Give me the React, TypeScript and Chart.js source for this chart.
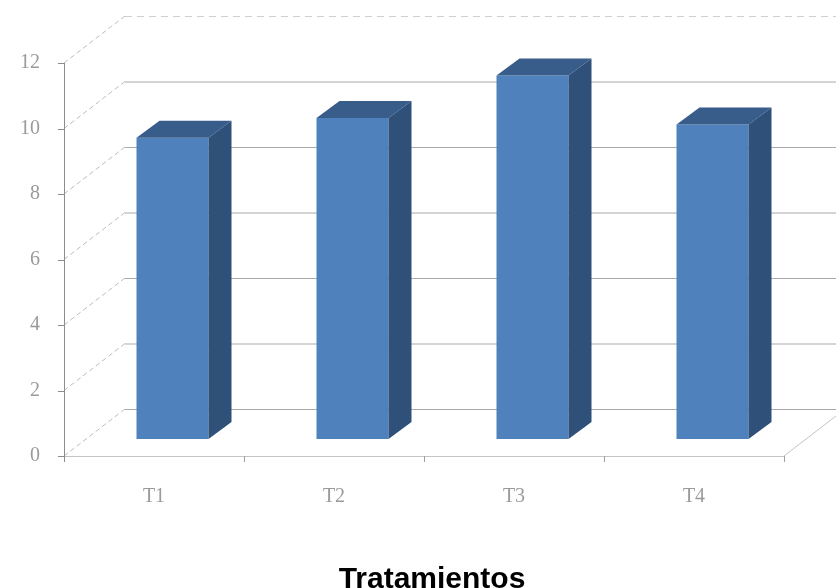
import React, { useEffect, useRef } from "react";
import { Chart, registerables } from "chart.js";

Chart.register(...registerables);

// Treatments and their mean values
const categories: string[] = ["T1", "T2", "T3", "T4"];
const values: number[] = [9.2, 9.8, 11.1, 9.6];
const yTicks = { min: 0, max: 12, step: 2 };
const axisTitle = "Tratamientos";

// Oblique projection offsets: wall depth and bar depth
const WALL_DX = 61;
const WALL_DY = -47;
const BAR_SHIFT_X = 18.5;
const BAR_SHIFT_Y = -17;
const BAR_DX = 23;
const BAR_DY = -17;

const FRONT = "#4F81BD";
const TOP = "#385D8A";
const SIDE = "#2E5079";

const box3d = {
  id: "box3d",
  beforeDatasetsDraw(chart: any) {
    const { ctx, chartArea, scales } = chart;
    const ys = scales.y;
    const xs = scales.x;
    const left = chartArea.left;
    const right = chartArea.right;
    const bottom = ys.getPixelForValue(0);
    const W = chart.width;
    ctx.save();

    // Back wall horizontals and left-wall diagonals
    ys.ticks.forEach((t: any, i: number) => {
      const py = ys.getPixelForValue(t.value);
      const isTop = i === ys.ticks.length - 1;
      ctx.lineWidth = 1;
      ctx.strokeStyle = isTop ? "#cfcfcf" : "#a9a9a9";
      ctx.setLineDash(isTop ? [7, 5] : []);
      ctx.beginPath();
      ctx.moveTo(left + WALL_DX, py + WALL_DY + 0.5);
      ctx.lineTo(W + 20, py + WALL_DY + 0.5);
      ctx.stroke();
      ctx.strokeStyle = "#bdbdbd";
      ctx.setLineDash([5, 3]);
      ctx.beginPath();
      ctx.moveTo(left, py);
      ctx.lineTo(left + WALL_DX, py + WALL_DY);
      ctx.stroke();
    });
    ctx.setLineDash([]);

    // Floor front edge and right edge
    ctx.strokeStyle = "#c4c4c4";
    ctx.beginPath();
    ctx.moveTo(left, bottom + 0.5);
    ctx.lineTo(right, bottom + 0.5);
    ctx.moveTo(right, bottom);
    ctx.lineTo(right + WALL_DX, bottom + WALL_DY);
    ctx.stroke();

    // Vertical axis with its ticks
    ctx.strokeStyle = "#8c8c8c";
    ctx.beginPath();
    ctx.moveTo(left + 0.5, ys.getPixelForValue(yTicks.max));
    ctx.lineTo(left + 0.5, bottom + 6);
    ys.ticks.forEach((t: any) => {
      const py = Math.round(ys.getPixelForValue(t.value)) + 0.5;
      ctx.moveTo(left - 6, py);
      ctx.lineTo(left, py);
    });
    ctx.stroke();

    // Category boundary ticks under the floor
    ctx.strokeStyle = "#a0a0a0";
    ctx.beginPath();
    const slot = (right - left) / categories.length;
    for (let i = 1; i <= categories.length; i++) {
      const px = Math.round(left + slot * i) + 0.5;
      ctx.moveTo(px, bottom);
      ctx.lineTo(px, bottom + 6);
    }
    ctx.stroke();

    // Tick labels
    ctx.fillStyle = "#9a9a9a";
    ctx.font = "20px 'Liberation Serif', serif";
    ctx.textAlign = "right";
    ctx.textBaseline = "middle";
    ys.ticks.forEach((t: any) => {
      ctx.fillText(String(t.value), left - 24, ys.getPixelForValue(t.value));
    });
    ctx.textAlign = "center";
    categories.forEach((c, i) => {
      ctx.fillText(c, xs.getPixelForValue(i), bottom + 41);
    });

    // Axis title
    ctx.fillStyle = "#000";
    ctx.font = "bold 30px 'Liberation Sans', Arial, sans-serif";
    ctx.textBaseline = "alphabetic";
    ctx.fillText(axisTitle, (left + right) / 2 + 8, 588);
    ctx.restore();
  },
  beforeDatasetDraw(chart: any) {
    chart.ctx.save();
    chart.ctx.translate(BAR_SHIFT_X, BAR_SHIFT_Y);
  },
  afterDatasetDraw(chart: any, args: any) {
    const { ctx } = chart;
    const meta = chart.getDatasetMeta(args.index);
    meta.data.forEach((el: any) => {
      const { x, y, base, width } = el.getProps(["x", "y", "base", "width"], true);
      const l = x - width / 2;
      const r = x + width / 2;
      ctx.fillStyle = TOP;
      ctx.beginPath();
      ctx.moveTo(l, y);
      ctx.lineTo(r, y);
      ctx.lineTo(r + BAR_DX, y + BAR_DY);
      ctx.lineTo(l + BAR_DX, y + BAR_DY);
      ctx.closePath();
      ctx.fill();
      ctx.fillStyle = SIDE;
      ctx.beginPath();
      ctx.moveTo(r, y);
      ctx.lineTo(r + BAR_DX, y + BAR_DY);
      ctx.lineTo(r + BAR_DX, base + BAR_DY);
      ctx.lineTo(r, base);
      ctx.closePath();
      ctx.fill();
    });
    ctx.restore();
  },
};

export default function App() {
  const ref = useRef<HTMLCanvasElement>(null);
  useEffect(() => {
    if (!ref.current) return;
    const chart = new Chart(ref.current, {
      type: "bar",
      data: {
        labels: categories,
        datasets: [
          {
            data: values,
            backgroundColor: FRONT,
            borderWidth: 0,
            barPercentage: 0.4,
            categoryPercentage: 1,
          },
        ],
      },
      options: {
        responsive: false,
        animation: false,
        devicePixelRatio: 1,
        layout: { padding: { left: 64, right: 52, top: 63, bottom: 132 } },
        plugins: { legend: { display: false }, tooltip: { enabled: false } },
        scales: {
          x: { display: false, offset: true },
          y: {
            display: false,
            min: yTicks.min,
            max: yTicks.max,
            ticks: { stepSize: yTicks.step },
          },
        },
      },
      plugins: [box3d],
    });
    return () => chart.destroy();
  }, []);
  return (
    <div style={{ position: "fixed", left: 0, top: 0, width: 836, height: 588, background: "#fff" }}>
      <canvas ref={ref} width={836} height={588} />
    </div>
  );
}
